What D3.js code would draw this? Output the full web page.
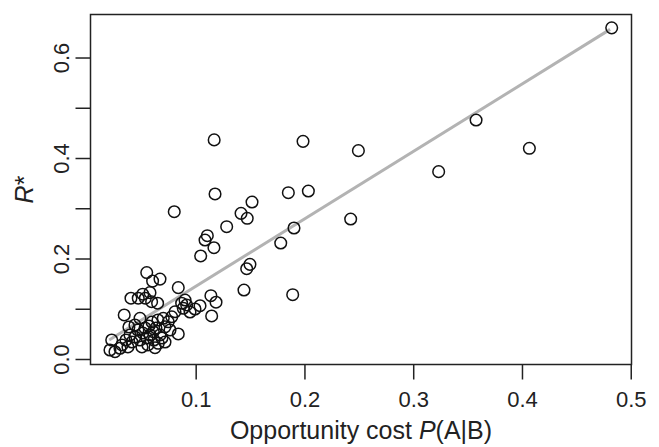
<!DOCTYPE html>
<html>
<head>
<meta charset="utf-8">
<script src="https://cdn.jsdelivr.net/npm/d3@7"></script>
<style>
  body { margin: 0; background: #fff; }
  text { font-family: "Liberation Sans", Arial, sans-serif; fill: #222; }
</style>
</head>
<body>
<div id="scatter"></div>
<script>
// Opportunity cost P(A|B) for each case
var opportunityCost = [
  0.4825, 0.3578, 0.4068, 0.3234, 0.1987, 0.2496, 0.1852, 0.2036, 0.1518, 0.1417,
  0.1474, 0.1285, 0.1904, 0.2425, 0.1782, 0.1499, 0.1469, 0.1444, 0.1892, 0.1170,
  0.1178, 0.0803, 0.1107, 0.1086, 0.1168, 0.1046,
  0.0550, 0.0604, 0.0672, 0.0840, 0.0405, 0.0513, 0.0537, 0.0580, 0.0595, 0.0650,
  0.1140, 0.1187, 0.1147, 0.1040, 0.0902, 0.0917, 0.0886, 0.0871, 0.0343, 0.0488,
  0.0212, 0.0258, 0.0304, 0.0228, 0.0626, 0.0840, 0.0764, 0.0810, 0.0780, 0.0748,
  0.0718, 0.0702, 0.0672, 0.0656, 0.0610,
  0.0322, 0.0359, 0.0377, 0.0414, 0.0396, 0.0442, 0.0469, 0.0488, 0.0515, 0.0534,
  0.0552, 0.0570, 0.0580, 0.0598, 0.0616, 0.0635, 0.0653, 0.0442, 0.0386, 0.0506,
  0.0561, 0.0690, 0.0718, 0.0472, 0.0948, 0.0994
]

// R* for each case
var rStar = [
  0.659, 0.4756, 0.4193, 0.3728, 0.4332, 0.4146, 0.331, 0.3343, 0.3124, 0.2899,
  0.280, 0.2633, 0.2607, 0.2786, 0.2308, 0.1884, 0.1797, 0.1373, 0.128, 0.436,
  0.3284, 0.2931, 0.2454, 0.2368, 0.2215, 0.205,
  0.172, 0.155, 0.159, 0.142, 0.121, 0.129, 0.121, 0.132, 0.114, 0.111,
  0.126, 0.113, 0.0856, 0.106, 0.1174, 0.1075, 0.101, 0.111, 0.0876, 0.081,
  0.0179, 0.0145, 0.0213, 0.0378, 0.0225, 0.0498, 0.0577, 0.094, 0.084, 0.074,
  0.064, 0.081, 0.0478, 0.0312, 0.0543,
  0.0279, 0.0378, 0.0239, 0.0338, 0.0478, 0.0438, 0.0577, 0.0378, 0.0517, 0.0617,
  0.0418, 0.0657, 0.0478, 0.0736, 0.0378, 0.0617, 0.0776, 0.0677, 0.0637, 0.0239,
  0.0279, 0.0418, 0.0338, 0.121, 0.0935, 0.0995
]

// fitted line, read at its two ends
var fitX = [0.0205, 0.481]
var fitY = [0.0378, 0.656]

var xTicks = [0.1, 0.2, 0.3, 0.4, 0.5]
var yTicks = [0, 0.1, 0.2, 0.3, 0.4, 0.5, 0.6]
var yLabels = [0, 0.2, 0.4, 0.6]

var outerWidth = 659, outerHeight = 447
var box = { left: 90.5, right: 631.5, top: 14.5, bottom: 364.5 }

var x = d3.scaleLinear().domain([0.0033, 0.5007]).range([box.left, box.right])
var y = d3.scaleLinear().domain([-0.01095, 0.6856]).range([box.bottom, box.top])

var svg = d3.select("#scatter")
    .append("svg")
      .attr("width", outerWidth)
      .attr("height", outerHeight)

var points = opportunityCost.map(function(d, i) { return [d, rStar[i]] })

// x axis
var xAxis = d3.axisBottom(x).tickValues(xTicks).tickSize(15).tickSizeOuter(0)
  .tickFormat(d3.format(".1f"))
var gx = svg.append("g")
    .attr("transform", "translate(0," + box.bottom + ")")
    .call(xAxis)
gx.select(".domain").remove()
gx.selectAll("line").attr("stroke", "#222").attr("stroke-width", 1.5)
gx.selectAll("text")
    .attr("y", 42.5)
    .attr("dy", null)
    .style("font-size", "22px")

// y axis
var yAxis = d3.axisLeft(y).tickValues(yTicks).tickSize(15).tickSizeOuter(0)
  .tickFormat(function(d) { return yLabels.indexOf(d) >= 0 ? d3.format(".1f")(d) : "" })
var gy = svg.append("g")
    .attr("transform", "translate(" + box.left + ",0)")
    .call(yAxis)
gy.select(".domain").remove()
gy.selectAll("line").attr("stroke", "#222").attr("stroke-width", 1.5)
gy.selectAll("text")
    .attr("x", null)
    .attr("dy", null)
    .attr("text-anchor", "middle")
    .attr("transform", "translate(-22,0) rotate(-90)")
    .style("font-size", "22px")

// fitted line
svg.append("line")
    .attr("x1", x(fitX[0]))
    .attr("y1", y(fitY[0]))
    .attr("x2", x(fitX[1]))
    .attr("y2", y(fitY[1]))
    .attr("stroke", "#b3b3b3")
    .attr("stroke-width", 3)

// points
svg.append("g")
  .selectAll("circle")
  .data(points)
  .enter().append("circle")
    .attr("cx", function(d) { return x(d[0]) })
    .attr("cy", function(d) { return y(d[1]) })
    .attr("r", 5.8)
    .attr("fill", "none")
    .attr("stroke", "#111")
    .attr("stroke-width", 1.5)

// box
svg.append("rect")
    .attr("x", box.left)
    .attr("y", box.top)
    .attr("width", box.right - box.left)
    .attr("height", box.bottom - box.top)
    .attr("fill", "none")
    .attr("stroke", "#222")
    .attr("stroke-width", 1.5)

// axis titles
var xt = svg.append("text")
    .attr("x", (box.left + box.right) / 2)
    .attr("y", 439)
    .attr("text-anchor", "middle")
    .style("font-size", "25px")
xt.append("tspan").text("Opportunity cost ")
xt.append("tspan").style("font-style", "italic").text("P")
xt.append("tspan").text("(A|B)")

var yt = svg.append("text")
    .attr("transform", "translate(33," + (box.top + box.bottom) / 2 + ") rotate(-90)")
    .attr("text-anchor", "middle")
    .style("font-size", "25px")
yt.append("tspan").style("font-style", "italic").text("R")
yt.append("tspan").text("*")
</script>
</body>
</html>
